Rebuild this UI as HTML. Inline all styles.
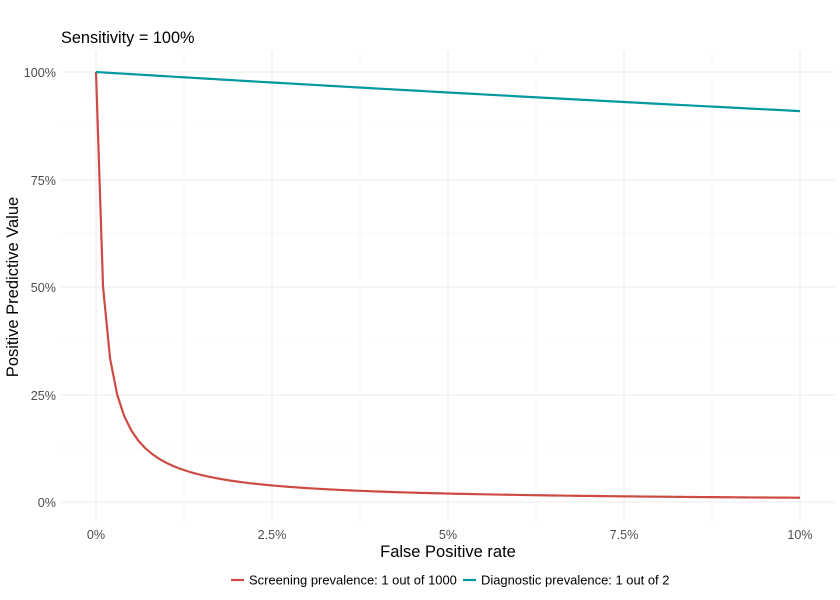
<!DOCTYPE html>
<html><head><meta charset="utf-8"><style>body{margin:0;background:#fff}svg{display:block;font-family:"Liberation Sans",sans-serif}</style></head>
<body>
<svg id="s" width="840" height="600" xmlns="http://www.w3.org/2000/svg">
<rect width="840" height="600" fill="#fff"/>
<g stroke="#f2f2f2" stroke-width="0.6">
<line x1="61" x2="835" y1="126" y2="126"/><line x1="61" x2="835" y1="233" y2="233"/><line x1="61" x2="835" y1="341" y2="341"/><line x1="61" x2="835" y1="448" y2="448"/>
<line y1="51" y2="522" x1="184" x2="184"/><line y1="51" y2="522" x1="360" x2="360"/><line y1="51" y2="522" x1="536" x2="536"/><line y1="51" y2="522" x1="712" x2="712"/>
</g>
<g stroke="#ebebeb" stroke-width="1.1">
<line x1="61" x2="835" y1="72" y2="72"/><line x1="61" x2="835" y1="180" y2="180"/><line x1="61" x2="835" y1="287" y2="287"/><line x1="61" x2="835" y1="395" y2="395"/><line x1="61" x2="835" y1="502" y2="502"/>
<line y1="51" y2="522" x1="96" x2="96"/><line y1="51" y2="522" x1="272" x2="272"/><line y1="51" y2="522" x1="448" x2="448"/><line y1="51" y2="522" x1="624" x2="624"/><line y1="51" y2="522" x1="800" x2="800"/>
</g>
<g font-size="12.6" fill="#4d4d4d" text-anchor="end">
<text x="56" y="77">100%</text><text x="56" y="185">75%</text><text x="56" y="292">50%</text><text x="56" y="400">25%</text><text x="56" y="507">0%</text>
</g>
<g font-size="12.6" fill="#4d4d4d" text-anchor="middle">
<text x="96" y="539">0%</text><text x="272" y="539">2.5%</text><text x="448" y="539">5%</text><text x="624" y="539">7.5%</text><text x="800" y="539">10%</text>
</g>
<text x="448" y="557" font-size="16.5" text-anchor="middle">False Positive rate</text>
<text transform="translate(18,287) rotate(-90)" font-size="16.5" text-anchor="middle">Positive Predictive Value</text>
<text x="61" y="43" font-size="16.3">Sensitivity = 100%</text>
<path id="r" fill="none" stroke="#cd4b42" stroke-width="2.2"/>
<path id="t" fill="none" stroke="#00999e" stroke-width="2.2"/>
<line x1="231" x2="244" y1="580" y2="580" stroke="#cd4b42" stroke-width="2.2"/>
<text x="249" y="584.5" font-size="12.95">Screening prevalence: 1 out of 1000</text>
<line x1="463" x2="476" y1="580" y2="580" stroke="#00999e" stroke-width="2.2"/>
<text x="481" y="584.5" font-size="12.95">Diagnostic prevalence: 1 out of 2</text>
</svg>
<script>
function path(p){var d="";for(var i=0;i<=100;i++){var f=i/1000;var v=p/(p+f*(1-p));var x=96+f*7040,y=502-v*430;d+=(i?"L":"M")+x.toFixed(2)+" "+y.toFixed(2);}return d;}
document.getElementById("r").setAttribute("d",path(0.001));
document.getElementById("t").setAttribute("d",path(0.5));
</script>
</body></html>
